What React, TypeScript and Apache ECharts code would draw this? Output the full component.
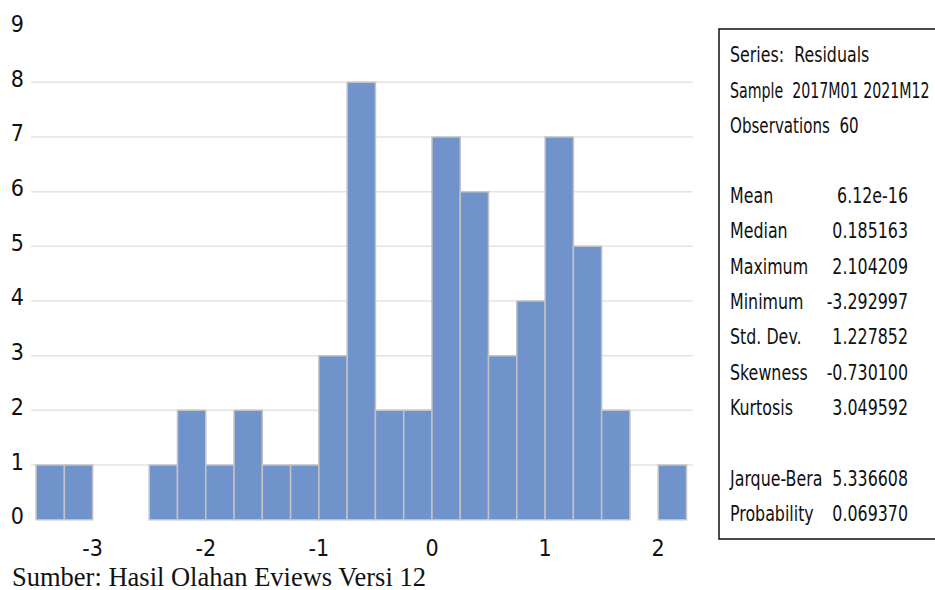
import React, { useEffect, useRef } from "react";
import * as echarts from "echarts";

// ---- data ----
const BIN_WIDTH = 0.25;
const binStarts = [
  -3.5, -3.25, -3.0, -2.75, -2.5, -2.25, -2.0, -1.75, -1.5, -1.25, -1.0, -0.75,
  -0.5, -0.25, 0.0, 0.25, 0.5, 0.75, 1.0, 1.25, 1.5, 1.75, 2.0,
];
const counts = [1, 1, 0, 0, 1, 2, 1, 2, 1, 1, 3, 8, 2, 2, 7, 6, 3, 4, 7, 5, 2, 0, 1];
const xTickValues = [-3, -2, -1, 0, 1, 2];
const gridValues = [1, 2, 3, 4, 5, 6, 7, 8];

const headerLines = ["Series:  Residuals", "Sample  2017M01 2021M12", "Observations  60"];
const statLabels = ["Mean", "Median", "Maximum", "Minimum", "Std. Dev.", "Skewness", "Kurtosis"];
const statValues = ["6.12e-16", "0.185163", "2.104209", "-3.292997", "1.227852", "-0.730100", "3.049592"];
const testLabels = ["Jarque-Bera", "Probability"];
const testValues = ["5.336608", "0.069370"];
const footerText = "Sumber: Hasil Olahan Eviews Versi 12";

const X_MIN = -3.545;
const X_MAX = 2.305;
const NARROW = "'DejaVu Sans Condensed', 'DejaVu Sans', sans-serif";

export default function App() {
  const ref = useRef<HTMLDivElement>(null);

  useEffect(() => {
    if (!ref.current) return;
    const chart = echarts.init(ref.current, undefined, { renderer: "svg" });

    const lineH = 35.3;
    const boxTexts: any[] = [];
    const textLeft = 730;
    const valueRight = 908;
    const yAt = (i: number) => 55 + i * lineH;
    const txt = (s: string, x: number, y: number, align: string, sx = 0.88) => ({
      type: "text",
      x,
      y,
      scaleX: sx,
      style: {
        text: s,
        fill: "#111",
        font: `20.5px ${NARROW}`,
        textAlign: align,
        textVerticalAlign: "middle",
      },
    });
    headerLines.forEach((s, i) =>
      boxTexts.push(txt(s, textLeft, yAt(i), "left", i === 1 ? 0.77 : i === 2 ? 0.82 : 0.86))
    );
    statLabels.forEach((s, i) => {
      boxTexts.push(txt(s, textLeft, yAt(i + 4), "left", 0.86));
      boxTexts.push(txt(statValues[i], valueRight, yAt(i + 4), "right", 0.86));
    });
    testLabels.forEach((s, i) => {
      boxTexts.push(txt(s, textLeft, yAt(i + 12), "left", 0.86));
      boxTexts.push(txt(testValues[i], valueRight, yAt(i + 12), "right", 0.86));
    });

    chart.setOption({
      animation: false,
      grid: { left: 31, right: 242.3, top: 27.6, bottom: 70.3, containLabel: false },
      xAxis: {
        type: "value",
        min: X_MIN,
        max: X_MAX,
        axisLine: { show: false },
        axisTick: { show: false },
        splitLine: { show: false },
        axisLabel: {
          customValues: xTickValues,
          fontFamily: NARROW,
          fontSize: 23,
          color: "#111",
          margin: 17,
        },
      },
      yAxis: {
        type: "value",
        min: 0,
        max: 9,
        interval: 1,
        axisLine: { show: false },
        axisTick: { show: false },
        splitLine: { show: false },
        axisLabel: {
          fontFamily: NARROW,
          fontSize: 23,
          color: "#111",
          margin: 7,
          verticalAlign: "bottom",
          padding: [0, 0, -8, 0],
        },
      },
      series: [
        {
          type: "custom",
          silent: true,
          z: 1,
          data: gridValues.map((v) => [X_MIN, v]),
          encode: { x: 0, y: 1 },
          renderItem: (params: any, api: any) => {
            const v = api.value(1);
            const a = api.coord([X_MIN, v]);
            const b = api.coord([X_MAX, v]);
            return {
              type: "line",
              shape: { x1: a[0], y1: a[1], x2: b[0], y2: b[1] },
              style: { stroke: "#e3e3e3", lineWidth: 1.5 },
            };
          },
        },
        {
          type: "custom",
          z: 2,
          data: binStarts.map((s, i) => [s, counts[i]]),
          encode: { x: 0, y: 1 },
          renderItem: (params: any, api: any) => {
            const x0 = api.value(0);
            const h = api.value(1);
            if (!h) return null;
            const p0 = api.coord([x0, 0]);
            const p1 = api.coord([x0 + BIN_WIDTH, h]);
            return {
              type: "rect",
              shape: { x: p0[0], y: p1[1], width: p1[0] - p0[0], height: p0[1] - p1[1] },
              style: { fill: "#7093cb", stroke: "#c3c3c3", lineWidth: 1.5 },
            };
          },
        },
      ],
      graphic: [
        {
          type: "rect",
          shape: { x: 719, y: 29, width: 260, height: 510 },
          style: { fill: "none", stroke: "#111", lineWidth: 1.5 },
        },
        ...boxTexts,
        {
          type: "text",
          x: 12,
          y: 576.5,
          style: {
            text: footerText,
            fill: "#111",
            font: "26.5px 'Liberation Serif', 'Times New Roman', serif",
            textAlign: "left",
            textVerticalAlign: "middle",
          },
        },
      ],
    });

    return () => chart.dispose();
  }, []);

  return (
    <div
      ref={ref}
      style={{ position: "absolute", left: 0, top: 0, width: 935, height: 590, background: "#fff" }}
    />
  );
}
